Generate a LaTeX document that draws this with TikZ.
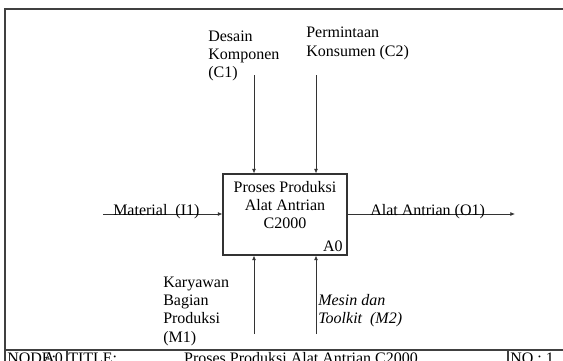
\documentclass[tikz,border=0pt]{standalone}
\usepackage{fontspec}
\setmainfont{Liberation Serif}
\usetikzlibrary{arrows.meta}
\begin{document}
\begin{tikzpicture}[x=0.75pt,y=-0.75pt,
  lbl/.style={inner sep=0pt,font=\fontsize{12}{13.8}\selectfont},
  frameline/.style={draw=black!75,line width=0.9pt},
  arr/.style={draw=black!80,line width=0.6pt,-{Latex[length=3.5pt,width=3pt]}},
  boxstyle/.style={draw=black!80,line width=0.8pt,minimum width=93pt,minimum height=60.75pt,inner sep=0pt}]
\useasboundingbox (0,0) rectangle (563,360);
% frame
\coordinate (ftl) at (5,9);
\coordinate (ftr) at (570,9);
\coordinate (fbl) at (5,370);
\coordinate (hl) at (5,350);
\coordinate (hr) at (570,350);
\coordinate (d1t) at (67,350);
\coordinate (d1b) at (67,370);
\coordinate (d2t) at (508,350);
\coordinate (d2b) at (508,370);
\draw[frameline] (fbl) -- (ftl) -- (ftr);
\draw[frameline] (hl) -- (hr);
\draw[frameline] (d1t) -- (d1b);
\draw[frameline] (d2t) -- (d2b);
% footer texts
\node[lbl,anchor=base west] (node) at (7,363.5) {NODE:};
\node[lbl,anchor=base west] (nodea) at (43,363.5) {A0};
\node[lbl,anchor=base west] (title) at (68,363.5) {TITLE:};
\node[lbl,anchor=base] (titletxt) at (301,363.5) {Proses Produksi Alat Antrian C2000};
\node[lbl,anchor=base west] (no) at (510,363.5) {NO : 1};
% box
\node[boxstyle] (box) at (285,214.5) {};
\node[lbl,align=center,anchor=base] (boxtxt) at (285,228.8) {Proses Produksi\\Alat Antrian\\C2000};
\node[lbl,anchor=base east] (a0) at (343,251.5) {A0};
% input
\coordinate (in) at (103,214);
\draw[arr] (in) -- (in -| box.west);
\node[lbl,anchor=base west] (inl) at (113,215) {Material\ \ (I1)};
% output
\coordinate (out) at (515,214);
\draw[arr] (out -| box.east) -- (out);
\node[lbl,anchor=base west] (outl) at (370,215) {Alat Antrian (O1)};
% controls
\coordinate (c1) at (254,75);
\coordinate (c2) at (316,75);
\draw[arr] (c1) -- (c1 |- box.north);
\draw[arr] (c2) -- (c2 |- box.north);
\node[lbl,anchor=base west,align=left] (c1l) at (208,77.8) {Desain\\Komponen\\(C1)};
\node[lbl,anchor=base west,align=left] (c2l) at (306,56.4) {Permintaan\\Konsumen (C2)};
% mechanisms
\coordinate (m1) at (254,334);
\coordinate (m2) at (316,334);
\draw[arr] (m1) -- (m1 |- box.south);
\draw[arr] (m2) -- (m2 |- box.south);
\node[lbl,anchor=base west,align=left] (m1l) at (163,342.2) {Karyawan\\Bagian\\Produksi\\(M1)};
\node[lbl,anchor=base west,align=left,font=\fontsize{12}{13.8}\selectfont\itshape] (m2l) at (318,323.4) {Mesin dan\\Toolkit\ \ (M2)};
\end{tikzpicture}
\end{document}
